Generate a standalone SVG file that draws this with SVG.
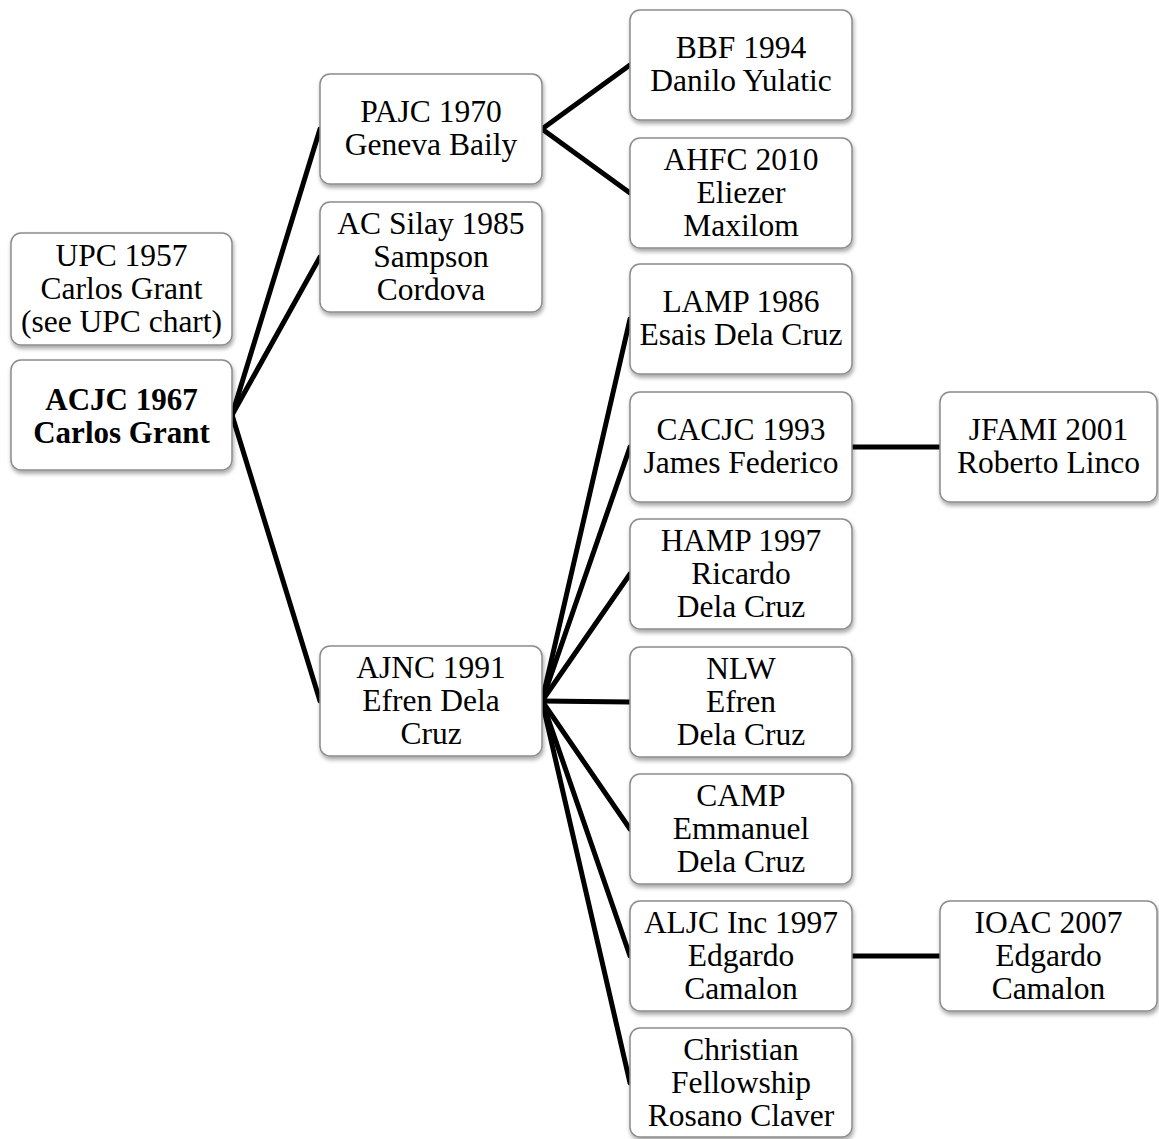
<svg xmlns="http://www.w3.org/2000/svg" width="1159" height="1139" viewBox="0 0 1159 1139">
<defs>
<filter id="sh" x="-10%" y="-10%" width="130%" height="130%">
<feGaussianBlur in="SourceAlpha" stdDeviation="2"/>
<feOffset dx="1" dy="3" result="b"/>
<feComponentTransfer><feFuncA type="linear" slope="0.35"/></feComponentTransfer>
<feMerge><feMergeNode/><feMergeNode in="SourceGraphic"/></feMerge>
</filter>
</defs>
<style>
.box{fill:#fff;stroke:#8c8c8c;stroke-width:1.5;filter:url(#sh)}
.t{font-family:"Liberation Serif",serif;font-size:31.5px;fill:#000;text-anchor:middle}
.b{font-weight:bold;font-size:31px}
.c{stroke:#000;stroke-width:5;fill:none;stroke-linecap:round}
</style>
<rect width="1159" height="1139" fill="#fff"/>
<g id="connectors">
<line class="c" x1="232" y1="415" x2="320" y2="129"/>
<line class="c" x1="232" y1="415" x2="320" y2="257"/>
<line class="c" x1="232" y1="415" x2="320" y2="701"/>
<line class="c" x1="542" y1="129" x2="630" y2="65"/>
<line class="c" x1="542" y1="129" x2="630" y2="193"/>
<line class="c" x1="542" y1="701" x2="630" y2="319"/>
<line class="c" x1="542" y1="701" x2="630" y2="447"/>
<line class="c" x1="542" y1="701" x2="630" y2="574"/>
<line class="c" x1="542" y1="701" x2="630" y2="702"/>
<line class="c" x1="542" y1="701" x2="630" y2="829"/>
<line class="c" x1="542" y1="701" x2="630" y2="956"/>
<line class="c" x1="542" y1="701" x2="630" y2="1083"/>
<line class="c" x1="852" y1="447" x2="940" y2="447"/>
<line class="c" x1="852" y1="956" x2="940" y2="956"/>
</g>
<g id="upc">
<rect class="box" x="11" y="233" width="221" height="112" rx="10"/>
<text class="t" x="121.5" y="266">UPC 1957</text>
<text class="t" x="121.5" y="299">Carlos Grant</text>
<text class="t" x="121.5" y="332">(see UPC chart)</text>
</g>
<g id="acjc">
<rect class="box" x="11" y="360" width="221" height="110" rx="10"/>
<text class="t b" x="121.5" y="410">ACJC 1967</text>
<text class="t b" x="121.5" y="443">Carlos Grant</text>
</g>
<g id="pajc">
<rect class="box" x="320" y="74" width="222" height="110" rx="10"/>
<text class="t" x="431" y="122">PAJC 1970</text>
<text class="t" x="431" y="155">Geneva Baily</text>
</g>
<g id="acsilay">
<rect class="box" x="320" y="202" width="222" height="110" rx="10"/>
<text class="t" x="431" y="234">AC Silay 1985</text>
<text class="t" x="431" y="267">Sampson</text>
<text class="t" x="431" y="300">Cordova</text>
</g>
<g id="ajnc">
<rect class="box" x="320" y="646" width="222" height="110" rx="10"/>
<text class="t" x="431" y="678">AJNC 1991</text>
<text class="t" x="431" y="711">Efren Dela</text>
<text class="t" x="431" y="744">Cruz</text>
</g>
<g id="bbf">
<rect class="box" x="630" y="10" width="222" height="110" rx="10"/>
<text class="t" x="741" y="58">BBF 1994</text>
<text class="t" x="741" y="91">Danilo Yulatic</text>
</g>
<g id="ahfc">
<rect class="box" x="630" y="138" width="222" height="110" rx="10"/>
<text class="t" x="741" y="170">AHFC 2010</text>
<text class="t" x="741" y="203">Eliezer</text>
<text class="t" x="741" y="236">Maxilom</text>
</g>
<g id="lamp">
<rect class="box" x="630" y="264" width="222" height="110" rx="10"/>
<text class="t" x="741" y="312">LAMP 1986</text>
<text class="t" x="741" y="345">Esais Dela Cruz</text>
</g>
<g id="cacjc">
<rect class="box" x="630" y="392" width="222" height="110" rx="10"/>
<text class="t" x="741" y="440">CACJC 1993</text>
<text class="t" x="741" y="473">James Federico</text>
</g>
<g id="hamp">
<rect class="box" x="630" y="519" width="222" height="110" rx="10"/>
<text class="t" x="741" y="551">HAMP 1997</text>
<text class="t" x="741" y="584">Ricardo</text>
<text class="t" x="741" y="617">Dela Cruz</text>
</g>
<g id="nlw">
<rect class="box" x="630" y="647" width="222" height="110" rx="10"/>
<text class="t" x="741" y="679">NLW</text>
<text class="t" x="741" y="712">Efren</text>
<text class="t" x="741" y="745">Dela Cruz</text>
</g>
<g id="camp">
<rect class="box" x="630" y="774" width="222" height="110" rx="10"/>
<text class="t" x="741" y="806">CAMP</text>
<text class="t" x="741" y="839">Emmanuel</text>
<text class="t" x="741" y="872">Dela Cruz</text>
</g>
<g id="aljc">
<rect class="box" x="630" y="901" width="222" height="110" rx="10"/>
<text class="t" x="741" y="933">ALJC Inc 1997</text>
<text class="t" x="741" y="966">Edgardo</text>
<text class="t" x="741" y="999">Camalon</text>
</g>
<g id="christian">
<rect class="box" x="630" y="1028" width="222" height="109" rx="10"/>
<text class="t" x="741" y="1060">Christian</text>
<text class="t" x="741" y="1093">Fellowship</text>
<text class="t" x="741" y="1126">Rosano Claver</text>
</g>
<g id="jfami">
<rect class="box" x="940" y="392" width="217" height="110" rx="10"/>
<text class="t" x="1048.5" y="440">JFAMI 2001</text>
<text class="t" x="1048.5" y="473">Roberto Linco</text>
</g>
<g id="ioac">
<rect class="box" x="940" y="901" width="217" height="110" rx="10"/>
<text class="t" x="1048.5" y="933">IOAC 2007</text>
<text class="t" x="1048.5" y="966">Edgardo</text>
<text class="t" x="1048.5" y="999">Camalon</text>
</g>
</svg>
